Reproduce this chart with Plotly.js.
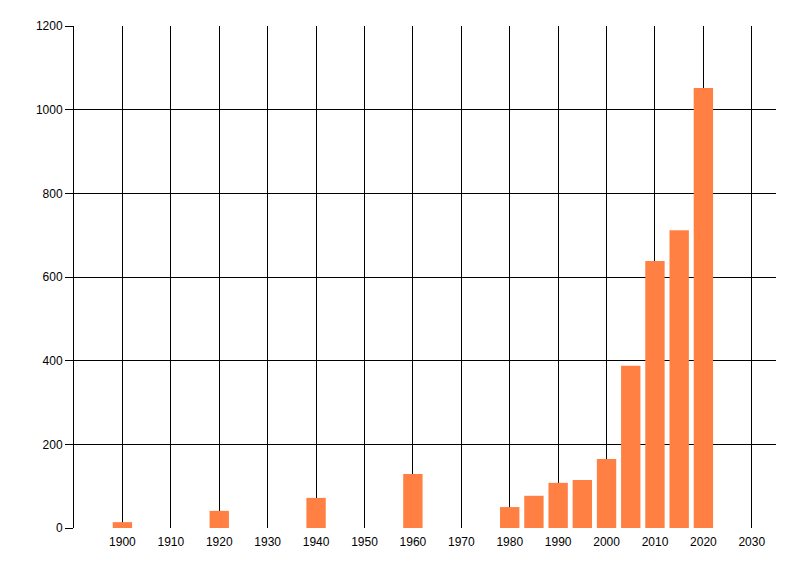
<!DOCTYPE html>
<html lang="en">

<head>
    <meta charset="UTF-8">
    <script src="https://cdn.plot.ly/plotly-3.0.1.min.js"></script>
    <title>Chart</title>
    <style>
        body { margin: 0; background: #fff; }
    </style>
</head>

<body>
    <div id="chart" style="width:800px;height:576px;"></div>

    <script>
        // years and values
        var years = [1900, 1920, 1940, 1960, 1980, 1985, 1990, 1995, 2000, 2005, 2010, 2015, 2020]
        var counts = [14, 41, 72, 129, 50, 77, 108, 115, 165, 388, 638, 712, 1052]
        var xTicks = [1900, 1910, 1920, 1930, 1940, 1950, 1960, 1970, 1980, 1990, 2000, 2010, 2020, 2030]
        var yTicks = [0, 200, 400, 600, 800, 1000, 1200]

        var tickFont = { family: 'Liberation Sans, Arial, sans-serif', size: 12, color: '#000' }

        Plotly.newPlot('chart', [{
            x: years,
            y: counts,
            type: 'bar',
            width: 4,
            marker: { color: '#FF8042', line: { width: 0 } },
            hoverinfo: 'x+y'
        }], {
            width: 800,
            height: 576,
            margin: { l: 74, r: 24, t: 26, b: 48 },
            paper_bgcolor: '#fff',
            plot_bgcolor: '#fff',
            showlegend: false,
            xaxis: {
                range: [1890, 2035],
                tickvals: xTicks,
                ticktext: xTicks.map(String),
                showgrid: true,
                gridcolor: '#000',
                gridwidth: 1,
                zeroline: false,
                showline: false,
                ticks: '',
                ticklabelstandoff: 5,
                tickfont: tickFont
            },
            yaxis: {
                range: [0, 1200],
                tickvals: yTicks,
                ticktext: yTicks.map(String),
                showgrid: true,
                gridcolor: '#000',
                gridwidth: 1,
                zeroline: false,
                showline: true,
                linecolor: '#000',
                linewidth: 1,
                ticks: 'outside',
                ticklen: 8,
                tickcolor: '#000',
                tickfont: tickFont
            }
        }, { displayModeBar: false, staticPlot: true });
    </script>
</body>

</html>
